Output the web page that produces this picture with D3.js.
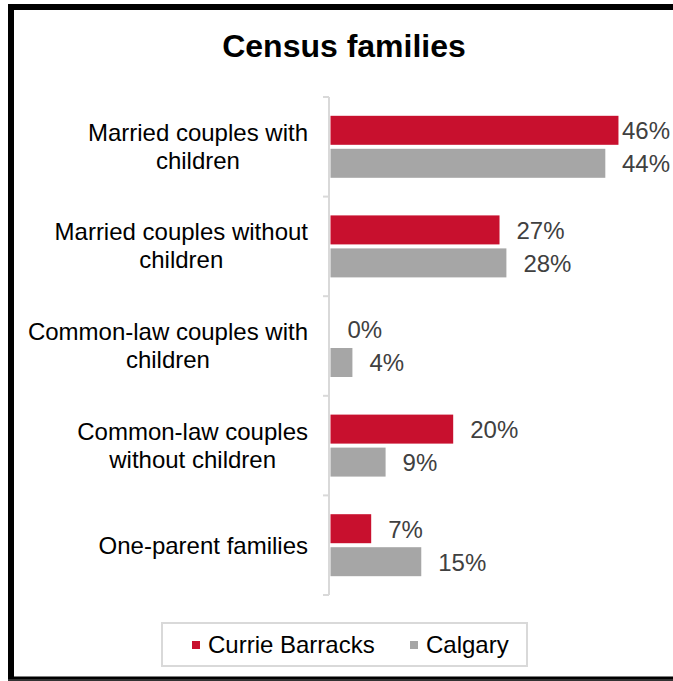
<!DOCTYPE html>
<html>
<head>
<meta charset="utf-8">
<script src="https://cdn.jsdelivr.net/npm/d3@7"></script>
<style>
  html, body { margin: 0; background: #fff; overflow: hidden; }
  svg { display: block; font-family: "Liberation Sans", Arial, sans-serif; }
</style>
</head>
<body>
<svg width="673" height="681"></svg>
<script>
// Data (bar lengths, labels are rounded)
const categories = [
  ["Married couples with", "children"],
  ["Married couples without", "children"],
  ["Common-law couples with", "children"],
  ["Common-law couples", "without children"],
  ["One-parent families"]
];
const seriesNames = ["Currie Barracks", "Calgary"];
const currieValues = [46, 27, 0, 19.6, 6.5];
const calgaryValues = [43.9, 28.1, 3.5, 8.8, 14.5];
const colors = ["#C8102E", "#A6A6A6"];

const svg = d3.select("svg");

// Frame: top, left and bottom edges only (right edge is cut off in the picture)
const frame = svg.append("path")
  .attr("d", "M673,7 H11 V679.5 H673")
  .attr("fill", "none")
  .attr("stroke", "#000")
  .attr("stroke-width", 6);
frame.clone()
  .attr("d", "M8,680 H673")
  .attr("stroke", "#333")
  .attr("stroke-width", 2);

// Title
svg.append("text")
  .attr("x", 344).attr("y", 57)
  .attr("text-anchor", "middle")
  .attr("font-size", 32)
  .attr("font-weight", "bold")
  .text("Census families");

// Scales
const keys = categories.map((c, i) => i);
const y = d3.scaleBand()
  .domain(keys)
  .range([97, 595]);

const yInner = d3.scaleBand()
  .domain(seriesNames)
  .range([0, y.bandwidth()])
  .paddingInner(0.121)
  .paddingOuter(0.57);

const x = d3.scaleLinear()
  .domain([0, 50])
  .range([330.5, 643.5]);

const color = d3.scaleOrdinal().domain(seriesNames).range(colors);

// Axis line with ticks between categories
const axis = svg.append("g").attr("stroke", "#d9d9d9").attr("stroke-width", 2);
axis.append("line")
  .attr("x1", 329).attr("x2", 329)
  .attr("y1", y.range()[0]).attr("y2", y.range()[1]);
const boundaries = keys.map(k => y(k)).concat([y.range()[1]]);
axis.selectAll(".tick")
  .data(boundaries)
  .enter().append("line")
    .attr("x1", 323).attr("x2", 329)
    .attr("y1", d => d).attr("y2", d => d);

// Category labels (lines centred on each other, block right-aligned)
const labelRight = 308;
const catG = svg.append("g");
categories.forEach((lines, i) => {
  const cy = y(i) + y.bandwidth() / 2;
  const t = catG.append("text")
    .attr("font-size", 24)
    .attr("fill", "#000")
    .attr("text-anchor", "middle");
  const first = lines.length === 1 ? cy + 8.5 : cy - 6;
  const spans = lines.map((l, j) => t.append("tspan").attr("y", first + j * 28).text(l));
  const maxW = d3.max(spans, s => s.node().getComputedTextLength());
  spans.forEach(s => s.attr("x", labelRight - maxW / 2));
});

// Bars
const rows = keys.map(i => ({
  i,
  values: [
    { name: seriesNames[0], v: currieValues[i] },
    { name: seriesNames[1], v: calgaryValues[i] }
  ]
}));

const groups = svg.selectAll(".cat")
  .data(rows)
  .enter().append("g")
    .attr("class", "cat")
    .attr("transform", d => `translate(0, ${y(d.i)})`);

groups.selectAll("rect")
  .data(d => d.values)
  .enter().append("rect")
    .attr("x", x(0))
    .attr("y", d => yInner(d.name))
    .attr("width", d => x(d.v) - x(0))
    .attr("height", yInner.bandwidth())
    .attr("fill", d => color(d.name));

groups.selectAll(".val")
  .data(d => d.values)
  .enter().append("text")
    .attr("class", "val")
    .attr("font-size", 24)
    .attr("fill", "#404040")
    .attr("y", d => yInner(d.name) + yInner.bandwidth() / 2 + 9)
    .text(d => Math.round(d.v) + "%")
    .attr("x", function(d) {
      const w = this.getComputedTextLength();
      return Math.min(x(d.v) + 17, 670 - w);
    });

// Legend
const legend = svg.append("g");
legend.append("rect")
  .attr("x", 162).attr("y", 623)
  .attr("width", 365).attr("height", 43)
  .attr("fill", "none")
  .attr("stroke", "#d9d9d9")
  .attr("stroke-width", 2);

const legendX = [192, 410];
seriesNames.forEach((name, i) => {
  legend.append("rect")
    .attr("x", legendX[i]).attr("y", 641)
    .attr("width", 8).attr("height", 8)
    .attr("fill", color(name));
  legend.append("text")
    .attr("x", legendX[i] + 16).attr("y", 653)
    .attr("font-size", 24)
    .attr("fill", "#000")
    .text(name);
});
</script>
</body>
</html>
